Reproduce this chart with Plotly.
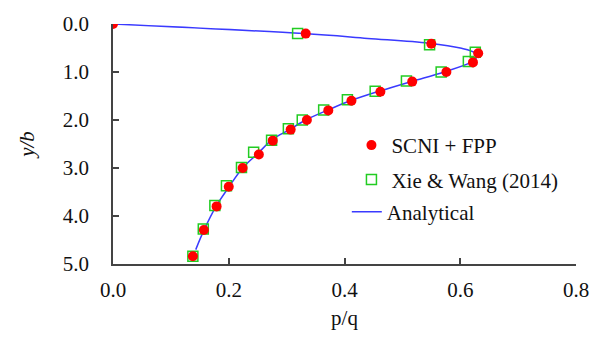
import plotly.graph_objects as go

# SCNI + FPP
scni_x = [0.0, 0.333, 0.55, 0.631, 0.622, 0.576, 0.517, 0.462, 0.412, 0.372, 0.335, 0.307, 0.276, 0.252, 0.224, 0.200, 0.179, 0.157, 0.138]
scni_y = [0.0, 0.20, 0.41, 0.61, 0.80, 1.00, 1.20, 1.41, 1.60, 1.80, 2.00, 2.20, 2.43, 2.72, 3.00, 3.39, 3.80, 4.29, 4.84]

# Xie & Wang (2014)
xw_x = [0.319, 0.547, 0.626, 0.614, 0.567, 0.507, 0.453, 0.405, 0.364, 0.327, 0.303, 0.274, 0.243, 0.222, 0.196, 0.176, 0.156, 0.138]
xw_y = [0.20, 0.43, 0.59, 0.78, 1.00, 1.19, 1.40, 1.58, 1.79, 2.00, 2.18, 2.42, 2.67, 2.99, 3.37, 3.78, 4.27, 4.84]

# Analytical
an_x = [0.0, 0.33, 0.44, 0.545, 0.60, 0.625, 0.628, 0.618, 0.572, 0.515, 0.46, 0.41, 0.37, 0.333, 0.305, 0.276, 0.25, 0.224, 0.2, 0.178, 0.157, 0.143]
an_y = [0.0, 0.20, 0.30, 0.40, 0.50, 0.60, 0.70, 0.80, 1.00, 1.20, 1.40, 1.60, 1.80, 2.00, 2.20, 2.40, 2.70, 3.00, 3.40, 3.80, 4.30, 4.70]

x_ticks = [0.0, 0.2, 0.4, 0.6, 0.8]
y_ticks = [0.0, 1.0, 2.0, 3.0, 4.0, 5.0]

FONT = "Times New Roman, Liberation Serif, DejaVu Serif, serif"
FS = 21

fig = go.Figure()
fig.add_trace(go.Scatter(
    x=an_x, y=an_y, mode="lines", name="Analytical",
    line=dict(color="#3a3aff", width=1.5, shape="spline"),
    legend="legend3"))
fig.add_trace(go.Scatter(
    x=xw_x, y=xw_y, mode="markers", name="Xie & Wang (2014)",
    marker=dict(symbol="square-open", size=10, color="#22cc22", line=dict(width=1.5)),
    legend="legend2"))
fig.add_trace(go.Scatter(
    x=scni_x, y=scni_y, mode="markers", name="SCNI + FPP",
    marker=dict(symbol="circle", size=10, color="#ff0000"),
    legend="legend"))

leg_common = dict(font=dict(family=FONT, size=FS, color="#111"),
                  bgcolor="rgba(0,0,0,0)", xanchor="left", yanchor="middle",
                  itemsizing="trace")
fig.update_layout(
    width=601, height=339,
    margin=dict(l=113, r=24, t=19, b=75),
    paper_bgcolor="white", plot_bgcolor="white",
    font=dict(family=FONT, size=FS, color="#111"),
    showlegend=True,
    legend=dict(x=0.515, y=(264 - 143) / 245, **leg_common),
    legend2=dict(x=0.515, y=(264 - 178) / 245, **leg_common),
    legend3=dict(x=0.505, y=(264 - 211) / 245, **leg_common),
    xaxis=dict(range=[0, 0.8], tickvals=x_ticks, tickformat=".1f",
               showgrid=False, zeroline=False, showline=True,
               linecolor="#444", linewidth=1.5, ticks="inside", ticklen=6,
               tickcolor="#444", tickwidth=1.5, ticklabelstandoff=6,
               tickfont=dict(family=FONT, size=FS),
               title=dict(text="p/q", standoff=9, font=dict(family=FONT, size=FS))),
    yaxis=dict(range=[5, 0], tickvals=y_ticks, tickformat=".1f",
               showgrid=False, zeroline=False, showline=True,
               linecolor="#444", linewidth=1.5, ticks="inside", ticklen=6,
               tickcolor="#444", tickwidth=1.5, ticklabelstandoff=18,
               tickfont=dict(family=FONT, size=FS),
               title=dict(text="<i>y/b</i>", standoff=22, font=dict(family=FONT, size=FS))),
)

fig.write_html("out.html")
